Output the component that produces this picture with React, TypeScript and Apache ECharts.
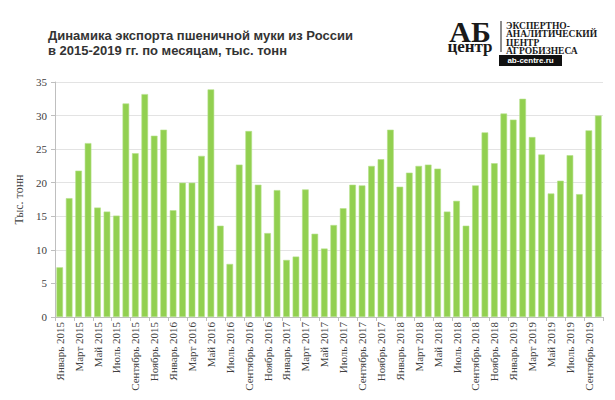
import React, { useEffect, useRef } from "react";
import * as echarts from "echarts";

const months = ["Январь", "Февраль", "Март", "Апрель", "Май", "Июнь", "Июль", "Август", "Сентябрь", "Октябрь", "Ноябрь", "Декабрь"];
const years = [2015, 2016, 2017, 2018, 2019];
const monthsIn2019 = 10;

const values2015 = [7.4, 17.7, 21.8, 25.9, 16.3, 15.7, 15.1, 31.8, 24.4, 33.2, 27.0, 27.9];
const values2016 = [15.9, 20.0, 20.0, 24.0, 33.9, 13.6, 7.9, 22.7, 27.7, 19.7, 12.5, 18.9];
const values2017 = [8.5, 9.0, 19.0, 12.4, 10.2, 13.7, 16.2, 19.7, 19.6, 22.5, 23.5, 27.9];
const values2018 = [19.4, 21.5, 22.5, 22.7, 22.1, 15.7, 17.3, 13.6, 19.6, 27.5, 22.9, 30.3];
const values2019 = [29.4, 32.5, 26.8, 24.2, 18.4, 20.3, 24.1, 18.3, 27.8, 30.0];

const titleLine1 = "Динамика экспорта пшеничной муки из России";
const titleLine2 = "в 2015-2019 гг. по месяцам, тыс. тонн";
const yAxisName = "Тыс. тонн";
const logoBig = "АБ";
const logoSmall = "центр";
const logoLines = ["ЭКСПЕРТНО-", "АНАЛИТИЧЕСКИЙ", "ЦЕНТР", "АГРОБИЗНЕСА"];
const logoUrl = "ab-centre.ru";

export default function App() {
  const ref = useRef<HTMLDivElement>(null);
  useEffect(() => {
    if (!ref.current) return;
    const chart = echarts.init(ref.current, undefined, { renderer: "svg" });
    const categories: string[] = [];
    years.forEach((y) => {
      const n = y === 2019 ? monthsIn2019 : 12;
      for (let i = 0; i < n; i++) categories.push(`${months[i]} ${y}`);
    });
    const data = [...values2015, ...values2016, ...values2017, ...values2018, ...values2019];
    const serif = "'Liberation Serif', 'Times New Roman', serif";
    const sans = "'Liberation Sans', Arial, sans-serif";
    chart.setOption({
      animation: false,
      backgroundColor: "#ffffff",
      grid: { left: 55, right: 12, top: 82, bottom: 83, containLabel: false },
      xAxis: {
        type: "category",
        data: categories,
        axisLine: { lineStyle: { color: "#bfbfbf" } },
        axisTick: { show: true, interval: 1, alignWithLabel: false, length: 4, lineStyle: { color: "#bfbfbf" } },
        axisLabel: {
          interval: 1,
          rotate: 90,
          fontFamily: serif,
          fontSize: 11,
          color: "#404040",
          margin: 5,
        },
      },
      yAxis: {
        type: "value",
        min: 0,
        max: 35,
        interval: 5,
        name: yAxisName,
        nameLocation: "middle",
        nameGap: 27,
        nameRotate: 90,
        nameTextStyle: { fontFamily: serif, fontSize: 12, color: "#404040" },
        axisLine: { show: true, lineStyle: { color: "#bfbfbf" } },
        axisTick: { show: true, length: 4, lineStyle: { color: "#bfbfbf" } },
        axisLabel: { fontFamily: serif, fontSize: 11, color: "#404040", margin: 8 },
        splitLine: { lineStyle: { color: "#e3e3e3" } },
      },
      series: [
        {
          type: "bar",
          data,
          barCategoryGap: "30%",
          itemStyle: { color: "#92d050", borderColor: "#b5e08a", borderWidth: 0.6 },
        },
      ],
      graphic: [
        {
          type: "text",
          x: 48,
          y: 35,
          style: {
            text: titleLine1,
            fontFamily: sans,
            fontWeight: "bold",
            fontSize: 13,
            fill: "#333333",
            verticalAlign: "middle",
          },
        },
        {
          type: "text",
          x: 48,
          y: 50.2,
          style: {
            text: titleLine2,
            fontFamily: sans,
            fontWeight: "bold",
            fontSize: 13,
            fill: "#333333",
            verticalAlign: "middle",
          },
        },
        {
          type: "text",
          x: 470,
          y: 31,
          style: {
            text: logoBig,
            fontFamily: serif,
            fontWeight: "bold",
            fontSize: 30,
            fill: "#1a1a1a",
            align: "center",
            verticalAlign: "middle",
          },
        },
        {
          type: "text",
          x: 470,
          y: 46,
          style: {
            text: logoSmall,
            fontFamily: serif,
            fontWeight: "bold",
            fontSize: 17,
            fill: "#1a1a1a",
            align: "center",
            verticalAlign: "middle",
          },
        },
        {
          type: "line",
          shape: { x1: 501, y1: 21, x2: 501, y2: 52 },
          style: { stroke: "#1a1a1a", lineWidth: 1 },
        },
        {
          type: "text",
          x: 506,
          y: 21.5,
          style: {
            text: logoLines.join("\n"),
            fontFamily: serif,
            fontWeight: "bold",
            fontSize: 9.5,
            lineHeight: 8.5,
            fill: "#1a1a1a",
          },
        },
        {
          type: "rect",
          shape: { x: 499, y: 55, width: 63, height: 11 },
          style: { fill: "#111111" },
        },
        {
          type: "text",
          x: 530.5,
          y: 60.5,
          style: {
            text: logoUrl,
            fontFamily: "'Liberation Sans', Arial, sans-serif",
            fontWeight: "bold",
            fontSize: 8,
            fill: "#ffffff",
            align: "center",
            verticalAlign: "middle",
          },
        },
      ],
    });
    return () => chart.dispose();
  }, []);
  return <div ref={ref} style={{ width: 615, height: 400, position: "absolute", left: 0, top: 0 }} />;
}
